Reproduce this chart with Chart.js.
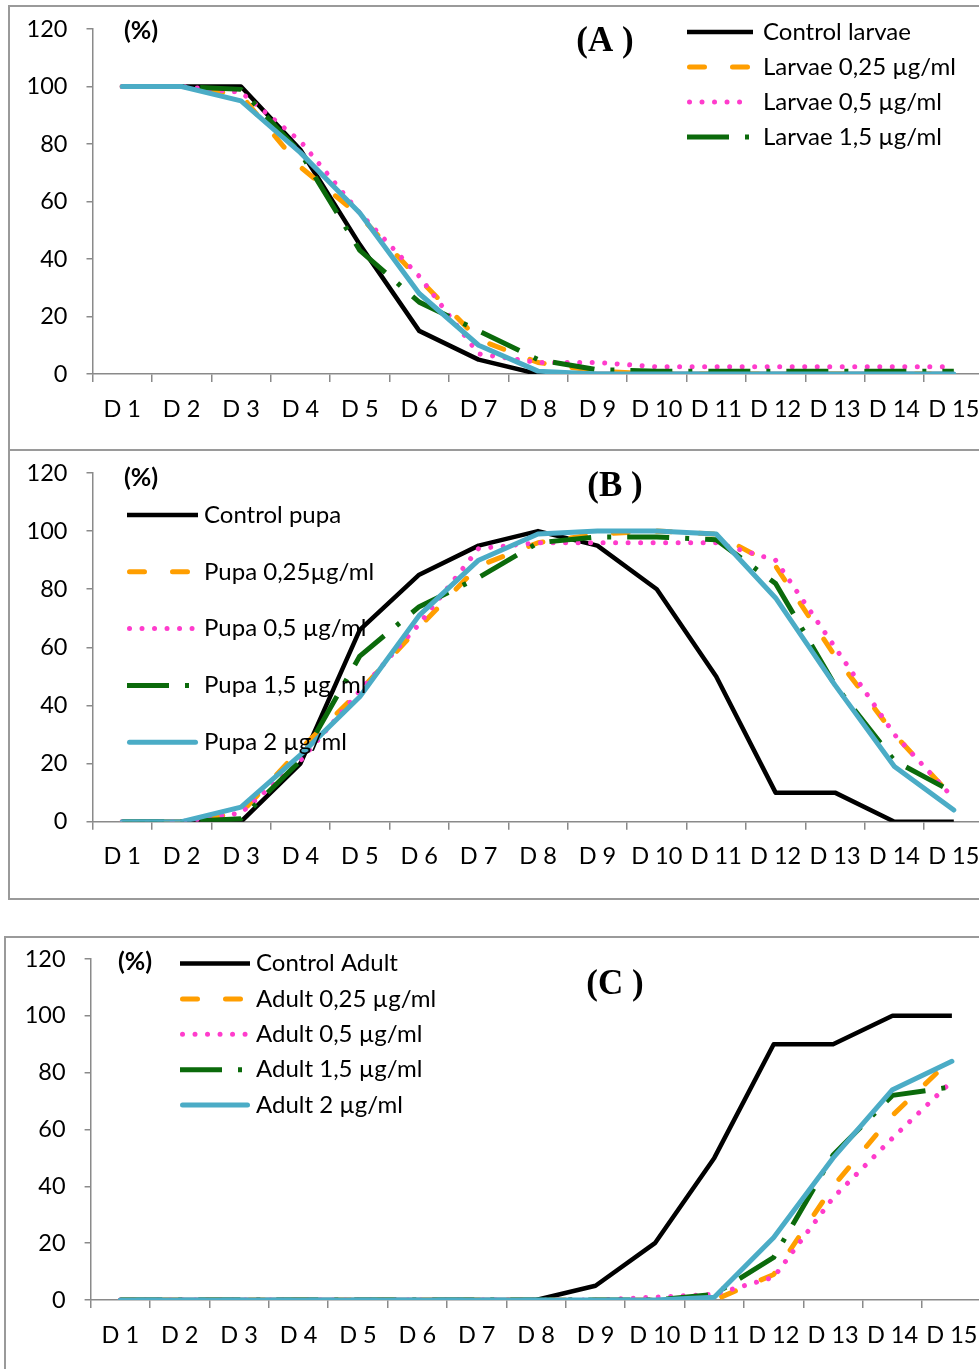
<!DOCTYPE html>
<html>
<head>
<meta charset="utf-8">
<title>Larvae / pupa / adult (%)</title>
<script src="https://cdn.jsdelivr.net/npm/chart.js@4.4.1/dist/chart.umd.min.js"></script>
<style>
  html, body { margin: 0; padding: 0; background: #fff; overflow: hidden; }
  body { width: 979px; height: 1369px; position: relative; }
  .panel { position: absolute; border: 2px solid #9a9a9a; box-sizing: border-box; background: #fff; }
  canvas { position: absolute; left: 0; }
</style>
</head>
<body>
<div class="panel" style="left:8px; top:5px; width:1000px; height:447px;"></div>
<div class="panel" style="left:8px; top:449px; width:1000px; height:451px;"></div>
<div class="panel" style="left:4px; top:936px; width:1000px; height:500px;"></div>
<canvas id="chartA" width="1000" height="450" style="top:0px"></canvas>
<canvas id="chartB" width="1000" height="450" style="top:450px"></canvas>
<canvas id="chartC" width="1000" height="433" style="top:936px"></canvas>
<script>
// ===============================
// Data (% per day)
// ===============================
const days = ['D 1','D 2','D 3','D 4','D 5','D 6','D 7','D 8','D 9','D 10','D 11','D 12','D 13','D 14','D 15'];
const yTicks = [0, 20, 40, 60, 80, 100, 120];

// (A) larvae
const controlLarvae = [100,100,100,78,45,15,5,0,0,0,0,0,0,0,0];
const larvae025     = [100,100,97,72,55,33,12,4,1,0,0,0,0,0,0];
const larvae05      = [100,100,98,81,56,34,7,4,4,2.5,2.5,2.5,2.5,2.5,2.5];
const larvae15      = [100,100,99,77,43,25,15,5,1.5,1,1,1,1,1,1];
const larvae2       = [100,100,95,77,56,28,10,1,0,0,0,0,0,0,0];

// (B) pupa
const controlPupa = [0,0,0,20,66,85,95,100,95,80,50,10,10,0,0];
const pupa025     = [0,0,3,25,45,67,88,96,99,100,99,88,57,30,8];
const pupa05      = [0,0,3,21,45,68,94,96,96,96,96,90,60,30,8];
const pupa15      = [0,0,1,21,57,74,84,96,98,98,97,82,47,21,10];
const pupa2       = [0,0,5,23,43,71,90,99,100,100,99,77,47,19,4];

// (C) adult
const controlAdult = [0,0,0,0,0,0,0,0,5,20,50,90,90,100,100];
const adult025     = [0,0,0,0,0,0,0,0,0,0,0,9,40,65,85];
const adult05      = [0,0,0,0,0,0,0,0,0,1,2,8,36,57,77];
const adult15      = [0,0,0,0,0,0,0,0,0,0,2,15,51,72,75];
const adult2       = [0,0,0,0,0,0,0,0,0,0,1,22,50,74,84];

// ===============================
// Line styles (Excel-like)
// ===============================
const FONT = 'Lato, Calibri, sans-serif';
const AXIS_GREY = '#8a8a8a';
const styles = {
  control: { borderColor: '#000000', borderWidth: 4.5, borderDash: [], borderCapStyle: 'butt' },
  c025:    { borderColor: '#ff9e00', borderWidth: 5, borderDash: [15, 28], borderCapStyle: 'round' },
  c05:     { borderColor: '#ff3ccc', borderWidth: 5, borderDash: [0.01, 12.5], borderCapStyle: 'round' },
  c15:     { borderColor: '#0b6a0b', borderWidth: 5, borderDash: [42, 16, 4, 16], borderCapStyle: 'butt' },
  c2:      { borderColor: '#4bacc6', borderWidth: 5, borderDash: [], borderCapStyle: 'round' },
};

// build one dataset; later series sit on top (lower order value = drawn later)
function ds(label, data, style, order) {
  return Object.assign({ label, data, order, pointRadius: 0, tension: 0, borderJoinStyle: 'round', fill: false }, style);
}

// ===============================
// Overlay plugin: (%) label, panel title, manual legend
// ===============================
const overlayPlugin = {
  id: 'overlay',
  afterDraw(chart, args, opts) {
    const ctx = chart.ctx;
    ctx.save();
    ctx.fillStyle = '#000';
    ctx.textBaseline = 'middle';
    // unit label
    ctx.font = 'bold 25px ' + FONT;
    ctx.textAlign = 'left';
    ctx.fillText('(%)', opts.unit.x, opts.unit.y);
    // panel letter
    ctx.font = 'bold 35px "Liberation Serif", "Times New Roman", serif';
    ctx.textAlign = 'center';
    ctx.fillText(opts.title.text, opts.title.x, opts.title.y);
    // legend rows
    const lg = opts.legend;
    lg.items.forEach((idx, i) => {
      const d = chart.data.datasets[idx];
      const y = lg.y0 + i * lg.dy;
      ctx.save();
      ctx.strokeStyle = d.borderColor;
      ctx.lineWidth = d.borderWidth;
      ctx.lineCap = d.borderCapStyle;
      ctx.setLineDash(d.borderDash);
      const inset = d.borderCapStyle === 'round' ? d.borderWidth / 2 : 0;
      ctx.beginPath();
      ctx.moveTo(lg.x1 + inset, y);
      ctx.lineTo(lg.x2 - inset, y);
      ctx.stroke();
      ctx.restore();
      ctx.font = '24px ' + FONT;
      ctx.textAlign = 'left';
      ctx.fillText(d.label, lg.tx, y);
    });
    ctx.restore();
  }
};

// ===============================
// Chart factory
// ===============================
function makeChart(id, datasets, pad, overlay) {
  return new Chart(document.getElementById(id), {
    type: 'line',
    data: { labels: days, datasets },
    plugins: [overlayPlugin],
    options: {
      responsive: false,
      animation: false,
      layout: { padding: pad },
      plugins: { legend: { display: false }, tooltip: { enabled: false }, overlay },
      scales: {
        x: {
          type: 'category',
          offset: true,
          grid: { offset: true, drawOnChartArea: false, drawTicks: true, tickLength: 8, color: AXIS_GREY, lineWidth: 1.5 },
          border: { color: AXIS_GREY, width: 1.5 },
          ticks: { color: '#000', font: { family: FONT, size: 23.5 }, maxRotation: 0, autoSkip: false, padding: 13 },
          afterFit: s => { s.height = 50; }
        },
        y: {
          min: 0, max: 120,
          afterBuildTicks: s => { s.ticks = yTicks.map(v => ({ value: v })); },
          grid: { drawOnChartArea: false, drawTicks: true, tickLength: 6, color: AXIS_GREY, lineWidth: 1.5 },
          border: { color: AXIS_GREY, width: 1.5 },
          ticks: { color: '#000', font: { family: FONT, size: 23.5 }, padding: 19 },
          // fixed axis width; drop the label padding so the plot top follows layout padding
          afterFit: s => { s.width = 80; s.paddingTop = 0; s.paddingBottom = 0; }
        }
      }
    }
  });
}

// (A) larvae panel – legend shows four entries only
makeChart('chartA', [
  ds('Control larvae', controlLarvae, styles.control, 4),
  ds('Larvae 0,25 µg/ml', larvae025, styles.c025, 3),
  ds('Larvae 0,5 µg/ml', larvae05, styles.c05, 2),
  ds('Larvae 1,5 µg/ml', larvae15, styles.c15, 1),
  ds('Larvae 2 µg/ml', larvae2, styles.c2, 0),
], { left: 12.5, right: 16.5, top: 29, bottom: 26 }, {
  unit: { x: 124, y: 31 },
  title: { text: '(A )', x: 605, y: 42 },
  legend: { items: [0, 1, 2, 3], x1: 687, x2: 753, tx: 763, y0: 32, dy: 35 }
});

// (B) pupa panel
makeChart('chartB', [
  ds('Control pupa', controlPupa, styles.control, 4),
  ds('Pupa 0,25µg/ml', pupa025, styles.c025, 3),
  ds('Pupa 0,5 µg/ml', pupa05, styles.c05, 2),
  ds('Pupa 1,5 µg/ml', pupa15, styles.c15, 1),
  ds('Pupa 2 µg/ml', pupa2, styles.c2, 0),
], { left: 12.5, right: 16.5, top: 23, bottom: 28.3 }, {
  unit: { x: 124, y: 28 },
  title: { text: '(B )', x: 615, y: 37 },
  legend: { items: [0, 1, 2, 3, 4], x1: 127, x2: 198, tx: 204, y0: 65, dy: 56.8 }
});

// (C) adult panel
makeChart('chartC', [
  ds('Control Adult', controlAdult, styles.control, 4),
  ds('Adult 0,25 µg/ml', adult025, styles.c025, 3),
  ds('Adult 0,5 µg/ml', adult05, styles.c05, 2),
  ds('Adult 1,5 µg/ml', adult15, styles.c15, 1),
  ds('Adult 2 µg/ml', adult2, styles.c2, 0),
], { left: 10.6, right: 18.4, top: 23, bottom: 19 }, {
  unit: { x: 118, y: 26 },
  title: { text: '(C )', x: 615, y: 49 },
  legend: { items: [0, 1, 2, 3, 4], x1: 180, x2: 250, tx: 256, y0: 27.5, dy: 35.4 }
});
</script>
</body>
</html>
